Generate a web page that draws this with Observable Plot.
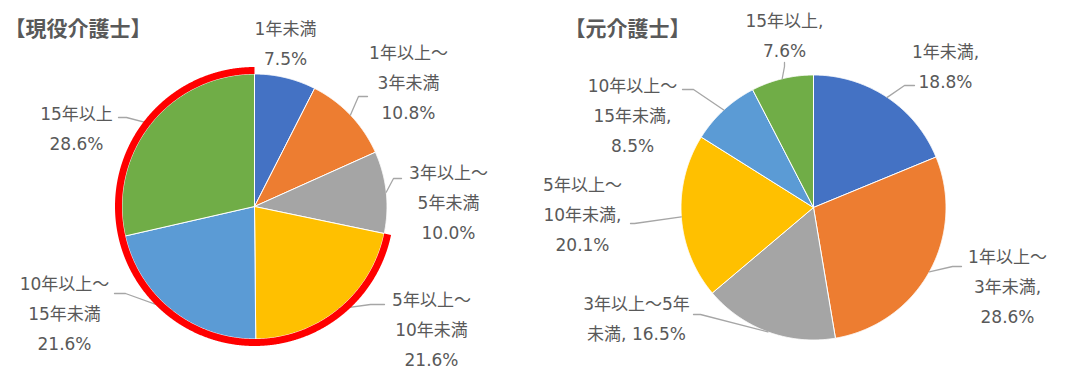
<!DOCTYPE html>
<html><head><meta charset="utf-8">
<script src="https://cdn.jsdelivr.net/npm/d3@7"></script>
<script src="https://cdn.jsdelivr.net/npm/@observablehq/plot@0.6"></script>
<style>html,body{margin:0;padding:0;background:#fff;}</style>
</head><body><div id="chart"></div>
<script>
// ---- data ----
const categories = ["1年未満","1年以上～3年未満","3年以上～5年未満","5年以上～10年未満","10年以上～15年未満","15年以上"];
const currentValues = [7.5, 10.8, 10.0, 21.6, 21.6, 28.6];
const formerValues  = [18.8, 28.6, 16.5, 20.1, 8.5, 7.6];
const sliceColors = ["#4472C4","#ED7D31","#A5A5A5","#FFC000","#5B9BD5","#70AD47"];
const titles = ["【現役介護士】","【元介護士】"];
const currentLabelTemplates = ["1年未満\n{v}","1年以上～\n3年未満\n{v}","3年以上～\n5年未満\n{v}","5年以上～\n10年未満\n{v}","10年以上～\n15年未満\n{v}","15年以上\n{v}"];
const formerLabelTemplates  = ["1年未満,\n{v}","1年以上～\n3年未満,\n{v}","3年以上～5年\n未満, {v}","5年以上～\n10年未満,\n{v}","10年以上～\n15年未満,\n{v}","15年以上,\n{v}"];
const highlightedCategories = ["5年以上～10年未満","10年以上～15年未満","15年以上"];

// ---- layout (positions / sizes) ----
const W = 1069, H = 368;
const pies = [
  {values: currentValues, templates: currentLabelTemplates, title: titles[0], titlePos: [4, 29],
   cx: 254, cy: 206, r: 132.5, highlight: true,
   labelPos: [[285,40],[408,79],[448,199],[431,325.5],[64,310],[76,125]],
   leaders: [null, [[358,96],[367,96]], [[393,178],[401,178]], [[370,304],[384,304]], [[125,293],[114,293]], [[126,117],[118,117]]]},
  {values: formerValues, templates: formerLabelTemplates, title: titles[1], titlePos: [564, 29],
   cx: 813, cy: 207, r: 132.5, highlight: false,
   labelPos: [[945,62.5],[1007,283],[636,315],[582,211],[632,112],[784,32]],
   leaders: [[[904,85],[914,85]], [[952,266],[961,266]], [[700,314],[693,314]], [[634,223],[630,223]], [[693,89],[682,89]], [[784,66],[784,62]]]}
];
const redRadius = 136, redWidth = 7;
const labelFont = "'DejaVu Sans','Noto Sans CJK JP',sans-serif";
const step = Math.PI / 720;

function pt(p, r, a) { return {x: p.cx + r * Math.sin(a), y: p.cy - r * Math.cos(a)}; }
function arcPts(p, r, a0, a1) {
  const n = Math.max(2, Math.ceil((a1 - a0) / step));
  const out = [];
  for (let i = 0; i <= n; i++) out.push(pt(p, r, a0 + (a1 - a0) * i / n));
  return out;
}

const marks = [];
const texts = [];
const leaderPts = [];
pies.forEach((p, pi) => {
  const arcs = d3.pie().sort(null).value(d => d)(p.values);
  arcs.forEach((a, i) => {
    const poly = [{x: p.cx, y: p.cy}, ...arcPts(p, p.r, a.startAngle, a.endAngle), {x: p.cx, y: p.cy}];
    marks.push(Plot.line(poly, {x: "x", y: "y", fill: sliceColors[i], stroke: "#ffffff", strokeWidth: 1, strokeLinejoin: "round"}));
    const mid = (a.startAngle + a.endAngle) / 2;
    texts.push({x: p.labelPos[i][0], y: p.labelPos[i][1], text: p.templates[i].replace("{v}", a.data.toFixed(1) + "%")});
    if (p.leaders[i]) {
      const id = pi + "-" + i;
      const e = pt(p, p.r, mid);
      leaderPts.push({id, x: e.x, y: e.y});
      p.leaders[i].forEach(q => leaderPts.push({id, x: q[0], y: q[1]}));
    }
  });
  if (p.highlight) {
    const hs = arcs.filter((a, i) => highlightedCategories.includes(categories[i]));
    const a0 = d3.min(hs, a => a.startAngle), a1 = d3.max(hs, a => a.endAngle);
    p.red = arcPts(p, redRadius, a0, a1);
  }
});

marks.push(Plot.line(leaderPts, {x: "x", y: "y", z: "id", stroke: "#A6A6A6", strokeWidth: 1.3}));
pies.forEach(p => { if (p.red) marks.push(Plot.line(p.red, {x: "x", y: "y", stroke: "#FF0000", strokeWidth: redWidth, strokeLinecap: "butt", strokeLinejoin: "round"})); });
marks.push(Plot.text(texts, {x: "x", y: "y", text: "text", fontSize: 17, lineHeight: 30/17, fill: "#595959", fontFamily: labelFont}));
marks.push(Plot.text(pies, {x: d => d.titlePos[0], y: d => d.titlePos[1], text: "title", textAnchor: "start", fontSize: 21, fontWeight: "bold", fill: "#595959", fontFamily: "'Noto Sans CJK JP',sans-serif"}));

const chart = Plot.plot({
  width: W, height: H,
  margin: 0,
  x: {domain: [0, W], range: [0, W], axis: null},
  y: {domain: [0, H], range: [0, H], axis: null},
  style: {background: "#ffffff", overflow: "visible"},
  marks
});
document.getElementById("chart").appendChild(chart);
</script>
</body></html>
